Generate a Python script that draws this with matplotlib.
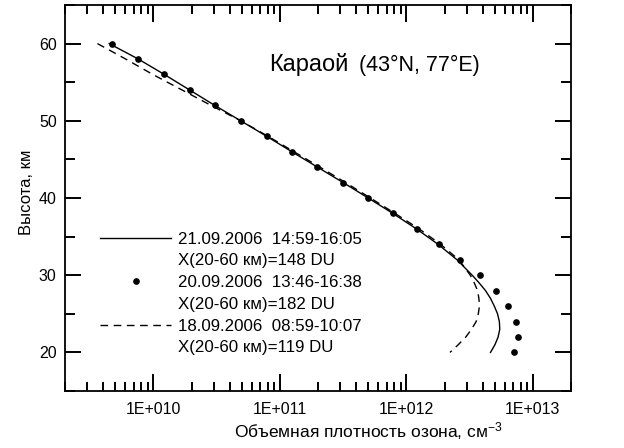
import matplotlib
matplotlib.use("Agg")
import matplotlib.pyplot as plt
from matplotlib.lines import Line2D
from matplotlib.ticker import FixedLocator, FixedFormatter, LogLocator, NullFormatter, MultipleLocator

plt.rcParams['font.family'] = ['Liberation Sans', 'DejaVu Sans']
plt.rcParams['mathtext.fontset'] = 'custom'
plt.rcParams['mathtext.rm'] = 'Liberation Sans'
plt.rcParams['mathtext.default'] = 'regular'
plt.rcParams.update({
    'xtick.direction': 'in', 'ytick.direction': 'in',
    'xtick.top': True, 'xtick.bottom': True, 'ytick.left': True, 'ytick.right': True,
    'xtick.major.size': 12, 'xtick.minor.size': 6.5,
    'ytick.major.size': 11.5, 'ytick.minor.size': 7,
    'xtick.major.width': 1.4, 'xtick.minor.width': 1.4,
    'ytick.major.width': 1.4, 'ytick.minor.width': 1.4,
    'xtick.color': 'black', 'ytick.color': 'black',
    'xtick.minor.visible': True, 'ytick.minor.visible': True,
    'axes.linewidth': 1.3,
})

# ---- data ----
alt_dots = [60, 58, 56, 54, 52, 50, 48, 46, 44, 42, 40, 38, 36, 34, 32, 30, 28, 26, 24, 22, 20]
dens_dots = [4.74e9, 7.6e9, 1.22e10, 1.94e10, 3.07e10, 4.91e10, 7.87e10, 1.24e11, 1.98e11,
             3.16e11, 4.99e11, 7.82e11, 1.21e12, 1.82e12, 2.67e12, 3.84e12, 5.1e12, 6.35e12,
             7.31e12, 7.58e12, 7.05e12]

alt_solid = [60, 58, 56, 54, 52, 50, 48, 46, 44, 42, 40, 38, 36, 34, 32, 30, 29, 28, 27, 26,
             25, 24, 23, 22, 21, 20]
dens_solid = [4.47e9, 7.59e9, 1.22e10, 1.93e10, 3.05e10, 4.90e10, 7.85e10, 1.24e11, 1.98e11,
              3.16e11, 4.99e11, 7.82e11, 1.20e12, 1.78e12, 2.51e12, 3.31e12, 3.76e12, 4.22e12,
              4.62e12, 4.95e12, 5.25e12, 5.43e12, 5.47e12, 5.31e12, 5.01e12, 4.62e12]

alt_dash = [60, 58, 56, 54, 52, 50, 48, 46, 44, 42, 40, 38, 36, 34, 32, 30, 29, 28, 27, 26,
            25, 24, 23, 22, 21, 20]
dens_dash = [3.61e9, 6.04e9, 9.89e9, 1.68e10, 2.85e10, 4.90e10, 8.04e10, 1.29e11, 2.07e11,
             3.30e11, 5.19e11, 8.13e11, 1.26e12, 1.86e12, 2.60e12, 3.20e12, 3.44e12, 3.65e12,
             3.74e12, 3.78e12, 3.70e12, 3.56e12, 3.27e12, 2.95e12, 2.57e12, 2.21e12]

x_tick_vals = [1e10, 1e11, 1e12, 1e13]
x_tick_labels = ["1E+010", "1E+011", "1E+012", "1E+013"]
y_tick_vals = [20, 30, 40, 50, 60]

legend_lines = ["21.09.2006  14:59-16:05", "X(20-60 км)=148 DU",
                "20.09.2006  13:46-16:38", "X(20-60 км)=182 DU",
                "18.09.2006  08:59-10:07", "X(20-60 км)=119 DU"]

# ---- figure ----
fig = plt.figure(figsize=(6.24, 4.48), dpi=100)
ax = fig.add_axes([65/624, 1-391/448, 506/624, 386/448])

l_solid, = ax.plot(dens_solid, alt_solid, color='black', lw=1.0)
l_dots, = ax.plot(dens_dots, alt_dots, linestyle='none', marker='o', ms=3.8, color='black')
l_dash, = ax.plot(dens_dash, alt_dash, color='black', lw=1.0, dashes=(5.5, 4))

ax.set_xscale('log')
ax.set_xlim(2e9, 2e13)
ax.set_ylim(15, 65)

ax.xaxis.set_major_locator(FixedLocator(x_tick_vals))
ax.xaxis.set_major_formatter(FixedFormatter(x_tick_labels))
ax.xaxis.set_minor_locator(LogLocator(base=10, subs=range(2, 10), numticks=20))
ax.xaxis.set_minor_formatter(NullFormatter())
ax.yaxis.set_major_locator(FixedLocator(y_tick_vals))
ax.yaxis.set_minor_locator(MultipleLocator(5))

ax.tick_params(axis='both', which='both', labelsize=11.5, color='black')
ax.tick_params(axis='x', which='major', pad=8)
ax.tick_params(axis='y', which='major', pad=6)

ax.set_xlabel("Объемная плотность озона, см$^{-3}$", fontsize=12.5)
ax.xaxis.set_label_coords((368-65)/506, -0.075)
ax.set_ylabel("Высота, км", fontsize=12)
ax.yaxis.set_label_coords(-0.061, 0.515)

ax.text(0.403, 0.8290, "Караой", transform=ax.transAxes, fontsize=17, ha='left', va='baseline')
ax.text(0.581, 0.8290, "(43°N, 77°E)", transform=ax.transAxes, fontsize=15.5, ha='left', va='baseline')

blank = Line2D([], [], linestyle='none')
handles = [l_solid, blank, l_dots, blank, l_dash, blank]
ax.legend(handles, legend_lines, loc='upper left', bbox_to_anchor=((100-65)/506, 0.413),
          frameon=False, fontsize=12.2, handlelength=4.2, handletextpad=0.4,
          labelspacing=0.4, borderpad=0, borderaxespad=0, numpoints=1)

fig.savefig("out.png", dpi=100)
